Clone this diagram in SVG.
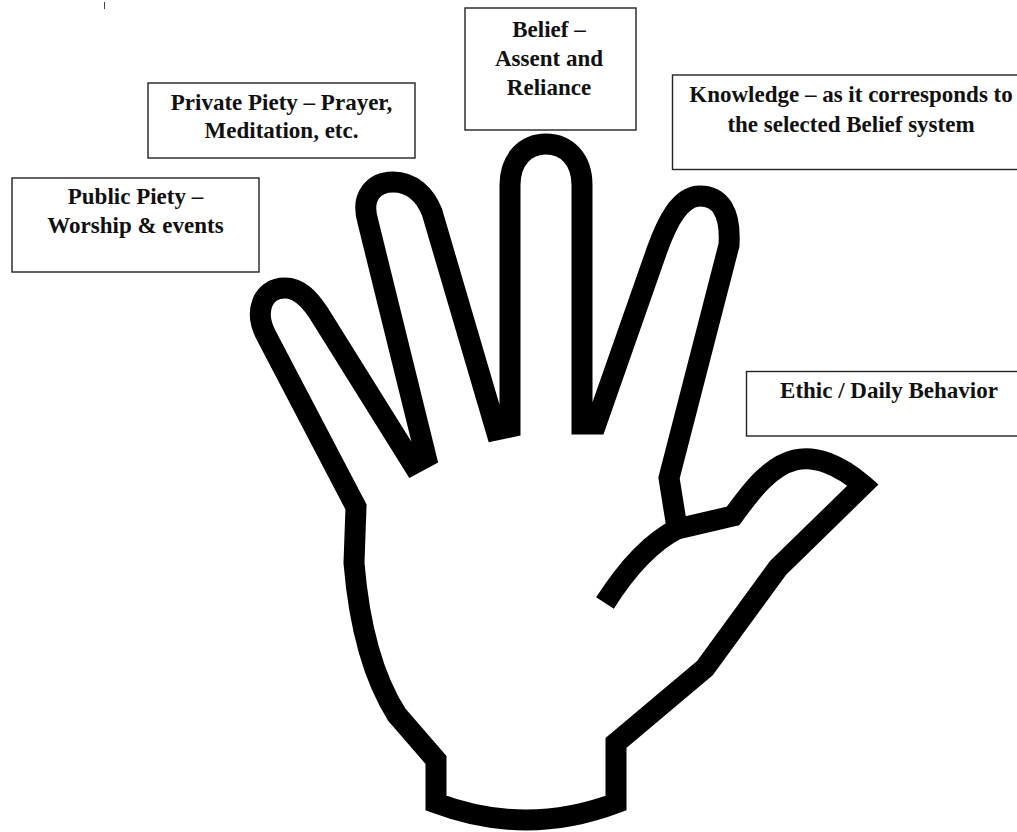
<svg xmlns="http://www.w3.org/2000/svg" width="1017" height="832" viewBox="0 0 1017 832">
  <style>
    .box { fill: #ffffff; stroke: #222222; stroke-width: 1.4; }
    .lbl { font-family: "Liberation Serif", "Times New Roman", serif; font-weight: bold; font-size: 23px; fill: #111111; text-anchor: middle; }
    .hand { fill: none; stroke: #000000; stroke-width: 21; stroke-linejoin: miter; stroke-miterlimit: 4; stroke-linecap: butt; }
  </style>
  <rect x="0" y="0" width="1017" height="832" fill="#ffffff"/>
  <line x1="104.5" y1="2" x2="104.5" y2="9" stroke="#444444" stroke-width="1"/>

  <g id="hand">
    <path class="hand" d="M 605,603 Q 640,548 677,529 L 733,516 C 752,490 770,466 795,460 C 815,455 840,465 863,485 L 778,568 L 705,668 L 616,743 L 616,803 Q 526,837 436,803 L 436,760 L 397,715 Q 362,660 354,563 L 356,507 L 266,335 C 254,312 262,288 285,288 C 300,288 310,300 318,312 L 413,464 L 426,457 L 368,222 C 360,195 375,182 393,182 C 412,182 425,195 432,212 L 496,430 L 510,427 L 510,185 C 510,160 525,144 546,144 C 567,144 582,160 582,185 L 582,424 L 596,424 L 657,250 C 667,222 680,196 700,196 C 720,196 731,212 729,245 L 669,478 L 678,534"/>
  </g>

  <g id="public-piety">
    <rect class="box" x="12" y="178" width="247" height="94"/>
    <text class="lbl" x="135.5" y="204">Public Piety –</text>
    <text class="lbl" x="135.5" y="233">Worship &amp; events</text>
  </g>

  <g id="private-piety">
    <rect class="box" x="148" y="83" width="267" height="75"/>
    <text class="lbl" x="281.5" y="110">Private Piety – Prayer,</text>
    <text class="lbl" x="281.5" y="138">Meditation, etc.</text>
  </g>

  <g id="belief">
    <rect class="box" x="465" y="8" width="171" height="122"/>
    <text class="lbl" x="549" y="37">Belief –</text>
    <text class="lbl" x="549" y="66">Assent and</text>
    <text class="lbl" x="549" y="95">Reliance</text>
  </g>

  <g id="knowledge">
    <rect class="box" x="672.5" y="75" width="360" height="94.5"/>
    <text class="lbl" x="851" y="101.5">Knowledge – as it corresponds to</text>
    <text class="lbl" x="851" y="131.5">the selected Belief system</text>
  </g>

  <g id="ethic">
    <rect class="box" x="746.5" y="371.5" width="290" height="64.5"/>
    <text class="lbl" x="889" y="398">Ethic / Daily Behavior</text>
  </g>

  <g id="connectors"/>
</svg>
